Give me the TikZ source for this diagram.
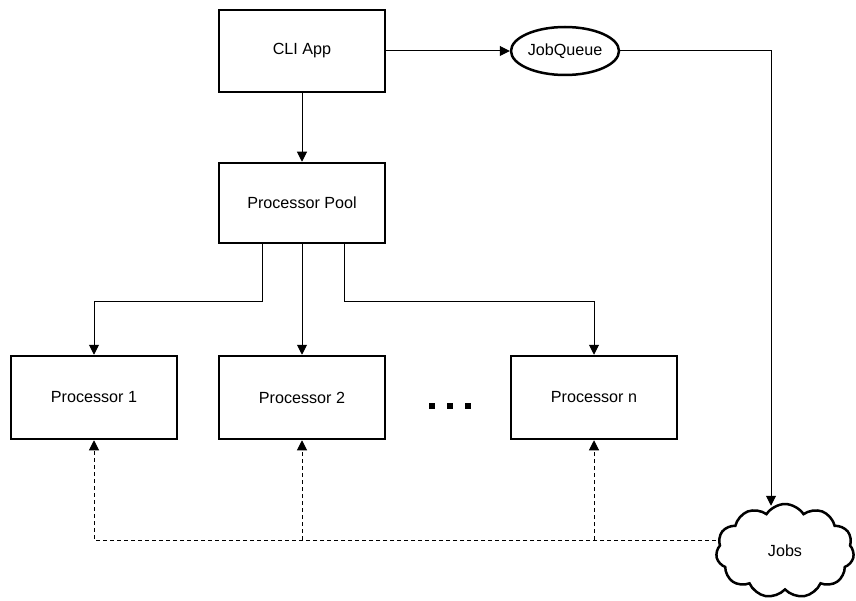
\documentclass[tikz,border=0pt]{standalone}
\usepackage{fontspec}
\setmainfont{Liberation Sans}
\usetikzlibrary{arrows.meta,shapes.geometric,shapes.symbols,calc}
\begin{document}
\begin{tikzpicture}[x=1bp,y=-1bp,
  lbl/.style={font=\fontsize{16.2}{19}\selectfont},
  box/.style={draw,line width=2.5bp,minimum width=166bp,minimum height=82bp,inner sep=0,lbl},
  conn/.style={line width=1bp,-{Triangle[length=10bp,width=10bp]}},
  dconn/.style={conn,dash pattern=on 4bp off 3bp}]
\useasboundingbox (0,0) rectangle (856,601);
\node[box] (cli) at (302,51) {CLI App};
\node[box,minimum height=80bp] (pool) at (302,203) {Processor Pool};
\node[draw,ellipse,line width=2.5bp,minimum width=108bp,minimum height=48bp,inner sep=0,lbl] (jq) at (565,51) {JobQueue};
\node[box,minimum height=83bp] (p1) at (94,397.5) {Processor 1};
\node[box,minimum height=83bp] (p2) at (302,397.5) {Processor 2};
\node[box,minimum height=83bp] (pn) at (594,397.5) {Processor n};
\node[draw,cloud,cloud puffs=11,cloud puff arc=115,aspect=1.5,line width=2.5bp,minimum width=138bp,minimum height=94bp,inner sep=0,lbl] (jobs) at (785,551) {Jobs};
\fill (428.5,403) rectangle (434.5,409);
\fill (447,403) rectangle (453,409);
\fill (465,403) rectangle (471,409);
\draw[conn] (cli) -- (pool);
\draw[conn] (cli.east) -- (jq.west);
\draw[conn] (jq.east) -| ($(jobs.north)+(-14,3)$);
\draw[conn] ($(pool.south)+(-40,0)$) |- (94,301) -- (p1.north);
\draw[conn] (pool.south) -- (p2.north);
\draw[conn] ($(pool.south)+(42,0)$) |- (594,301) -- (pn.north);
\coordinate (jl) at ($(jobs.center)+(-69,-11)$);
\draw[dconn] (jl) -| (p1.south);
\draw[dconn] (p2.south |- jl) -- (p2.south);
\draw[dconn] (pn.south |- jl) -- (pn.south);
\end{tikzpicture}
\end{document}
